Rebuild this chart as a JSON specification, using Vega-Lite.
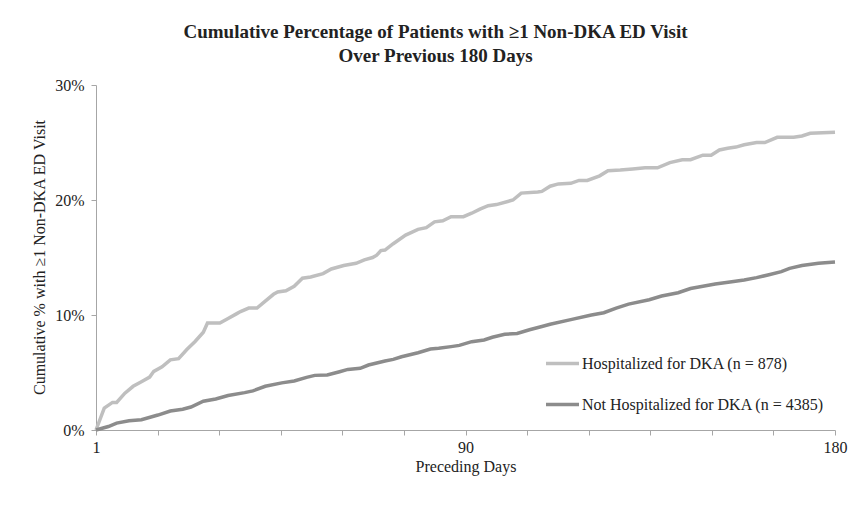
{
  "$schema": "https://vega.github.io/schema/vega-lite/v6.json",
  "width": 739,
  "height": 345,
  "autosize": {"type": "none"},
  "padding": {"left": 96, "top": 85, "right": 15, "bottom": 84},
  "background": "white",
  "title": {
    "text": ["Cumulative Percentage of Patients with ≥1 Non-DKA ED Visit", "Over Previous 180 Days"],
    "font": "Liberation Serif",
    "fontSize": 19,
    "fontWeight": "bold",
    "color": "#222222",
    "anchor": "middle",
    "dx": -30,
    "offset": 11,
    "lineHeight": 24
  },
  "config": {
    "view": {"stroke": null},
    "font": "Liberation Serif",
    "axis": {
      "labelFont": "Liberation Serif",
      "titleFont": "Liberation Serif",
      "labelFontSize": 16,
      "titleFontSize": 16,
      "titleFontWeight": "normal",
      "labelColor": "#222222",
      "titleColor": "#222222",
      "domainColor": "#a6a6a6",
      "tickColor": "#a6a6a6",
      "domainWidth": 1,
      "tickWidth": 1,
      "grid": false
    },
    "legend": {
      "labelFont": "Liberation Serif",
      "labelFontSize": 16,
      "labelColor": "#222222"
    }
  },
  "data": {
    "values": [
      {"group": "Hospitalized for DKA (n = 878)", "day": 1, "pct": 0},
      {"group": "Hospitalized for DKA (n = 878)", "day": 3, "pct": 1.9},
      {"group": "Hospitalized for DKA (n = 878)", "day": 5, "pct": 2.4},
      {"group": "Hospitalized for DKA (n = 878)", "day": 6, "pct": 2.4},
      {"group": "Hospitalized for DKA (n = 878)", "day": 8, "pct": 3.2},
      {"group": "Hospitalized for DKA (n = 878)", "day": 10, "pct": 3.8},
      {"group": "Hospitalized for DKA (n = 878)", "day": 12, "pct": 4.2},
      {"group": "Hospitalized for DKA (n = 878)", "day": 14, "pct": 4.6},
      {"group": "Hospitalized for DKA (n = 878)", "day": 15, "pct": 5.1},
      {"group": "Hospitalized for DKA (n = 878)", "day": 17, "pct": 5.5},
      {"group": "Hospitalized for DKA (n = 878)", "day": 19, "pct": 6.1},
      {"group": "Hospitalized for DKA (n = 878)", "day": 21, "pct": 6.2},
      {"group": "Hospitalized for DKA (n = 878)", "day": 23, "pct": 7.0},
      {"group": "Hospitalized for DKA (n = 878)", "day": 25, "pct": 7.7},
      {"group": "Hospitalized for DKA (n = 878)", "day": 27, "pct": 8.5},
      {"group": "Hospitalized for DKA (n = 878)", "day": 28, "pct": 9.3},
      {"group": "Hospitalized for DKA (n = 878)", "day": 31, "pct": 9.3},
      {"group": "Hospitalized for DKA (n = 878)", "day": 33, "pct": 9.7},
      {"group": "Hospitalized for DKA (n = 878)", "day": 35, "pct": 10.1},
      {"group": "Hospitalized for DKA (n = 878)", "day": 36, "pct": 10.3},
      {"group": "Hospitalized for DKA (n = 878)", "day": 38, "pct": 10.6},
      {"group": "Hospitalized for DKA (n = 878)", "day": 40, "pct": 10.6},
      {"group": "Hospitalized for DKA (n = 878)", "day": 42, "pct": 11.2},
      {"group": "Hospitalized for DKA (n = 878)", "day": 44, "pct": 11.8},
      {"group": "Hospitalized for DKA (n = 878)", "day": 45, "pct": 12.0},
      {"group": "Hospitalized for DKA (n = 878)", "day": 47, "pct": 12.1},
      {"group": "Hospitalized for DKA (n = 878)", "day": 49, "pct": 12.5},
      {"group": "Hospitalized for DKA (n = 878)", "day": 51, "pct": 13.2},
      {"group": "Hospitalized for DKA (n = 878)", "day": 53, "pct": 13.3},
      {"group": "Hospitalized for DKA (n = 878)", "day": 56, "pct": 13.6},
      {"group": "Hospitalized for DKA (n = 878)", "day": 58, "pct": 14.0},
      {"group": "Hospitalized for DKA (n = 878)", "day": 61, "pct": 14.3},
      {"group": "Hospitalized for DKA (n = 878)", "day": 64, "pct": 14.5},
      {"group": "Hospitalized for DKA (n = 878)", "day": 66, "pct": 14.8},
      {"group": "Hospitalized for DKA (n = 878)", "day": 68, "pct": 15.0},
      {"group": "Hospitalized for DKA (n = 878)", "day": 69, "pct": 15.2},
      {"group": "Hospitalized for DKA (n = 878)", "day": 70, "pct": 15.6},
      {"group": "Hospitalized for DKA (n = 878)", "day": 71, "pct": 15.65},
      {"group": "Hospitalized for DKA (n = 878)", "day": 73, "pct": 16.2},
      {"group": "Hospitalized for DKA (n = 878)", "day": 76, "pct": 16.95},
      {"group": "Hospitalized for DKA (n = 878)", "day": 79, "pct": 17.45},
      {"group": "Hospitalized for DKA (n = 878)", "day": 81, "pct": 17.6},
      {"group": "Hospitalized for DKA (n = 878)", "day": 83, "pct": 18.1},
      {"group": "Hospitalized for DKA (n = 878)", "day": 85, "pct": 18.2},
      {"group": "Hospitalized for DKA (n = 878)", "day": 87, "pct": 18.55},
      {"group": "Hospitalized for DKA (n = 878)", "day": 90, "pct": 18.55},
      {"group": "Hospitalized for DKA (n = 878)", "day": 92, "pct": 18.85},
      {"group": "Hospitalized for DKA (n = 878)", "day": 94, "pct": 19.2},
      {"group": "Hospitalized for DKA (n = 878)", "day": 96, "pct": 19.5},
      {"group": "Hospitalized for DKA (n = 878)", "day": 98, "pct": 19.6},
      {"group": "Hospitalized for DKA (n = 878)", "day": 102, "pct": 20.0},
      {"group": "Hospitalized for DKA (n = 878)", "day": 104, "pct": 20.6},
      {"group": "Hospitalized for DKA (n = 878)", "day": 108, "pct": 20.7},
      {"group": "Hospitalized for DKA (n = 878)", "day": 109, "pct": 20.75},
      {"group": "Hospitalized for DKA (n = 878)", "day": 111, "pct": 21.2},
      {"group": "Hospitalized for DKA (n = 878)", "day": 113, "pct": 21.4},
      {"group": "Hospitalized for DKA (n = 878)", "day": 116, "pct": 21.45},
      {"group": "Hospitalized for DKA (n = 878)", "day": 118, "pct": 21.7},
      {"group": "Hospitalized for DKA (n = 878)", "day": 120, "pct": 21.7},
      {"group": "Hospitalized for DKA (n = 878)", "day": 123, "pct": 22.1},
      {"group": "Hospitalized for DKA (n = 878)", "day": 125, "pct": 22.55},
      {"group": "Hospitalized for DKA (n = 878)", "day": 128, "pct": 22.6},
      {"group": "Hospitalized for DKA (n = 878)", "day": 131, "pct": 22.7},
      {"group": "Hospitalized for DKA (n = 878)", "day": 134, "pct": 22.8},
      {"group": "Hospitalized for DKA (n = 878)", "day": 137, "pct": 22.8},
      {"group": "Hospitalized for DKA (n = 878)", "day": 140, "pct": 23.25},
      {"group": "Hospitalized for DKA (n = 878)", "day": 143, "pct": 23.5},
      {"group": "Hospitalized for DKA (n = 878)", "day": 145, "pct": 23.5},
      {"group": "Hospitalized for DKA (n = 878)", "day": 148, "pct": 23.9},
      {"group": "Hospitalized for DKA (n = 878)", "day": 150, "pct": 23.9},
      {"group": "Hospitalized for DKA (n = 878)", "day": 152, "pct": 24.35},
      {"group": "Hospitalized for DKA (n = 878)", "day": 154, "pct": 24.5},
      {"group": "Hospitalized for DKA (n = 878)", "day": 156, "pct": 24.6},
      {"group": "Hospitalized for DKA (n = 878)", "day": 158, "pct": 24.8},
      {"group": "Hospitalized for DKA (n = 878)", "day": 161, "pct": 25.0},
      {"group": "Hospitalized for DKA (n = 878)", "day": 163, "pct": 25.0},
      {"group": "Hospitalized for DKA (n = 878)", "day": 166, "pct": 25.45},
      {"group": "Hospitalized for DKA (n = 878)", "day": 170, "pct": 25.45},
      {"group": "Hospitalized for DKA (n = 878)", "day": 172, "pct": 25.57},
      {"group": "Hospitalized for DKA (n = 878)", "day": 174, "pct": 25.8},
      {"group": "Hospitalized for DKA (n = 878)", "day": 177, "pct": 25.85},
      {"group": "Hospitalized for DKA (n = 878)", "day": 180, "pct": 25.9},
      {"group": "Not Hospitalized for DKA (n = 4385)", "day": 1, "pct": 0},
      {"group": "Not Hospitalized for DKA (n = 4385)", "day": 4, "pct": 0.3},
      {"group": "Not Hospitalized for DKA (n = 4385)", "day": 6, "pct": 0.6},
      {"group": "Not Hospitalized for DKA (n = 4385)", "day": 9, "pct": 0.8},
      {"group": "Not Hospitalized for DKA (n = 4385)", "day": 12, "pct": 0.9},
      {"group": "Not Hospitalized for DKA (n = 4385)", "day": 16, "pct": 1.3},
      {"group": "Not Hospitalized for DKA (n = 4385)", "day": 19, "pct": 1.65},
      {"group": "Not Hospitalized for DKA (n = 4385)", "day": 22, "pct": 1.8},
      {"group": "Not Hospitalized for DKA (n = 4385)", "day": 24, "pct": 2.0},
      {"group": "Not Hospitalized for DKA (n = 4385)", "day": 27, "pct": 2.5},
      {"group": "Not Hospitalized for DKA (n = 4385)", "day": 30, "pct": 2.7},
      {"group": "Not Hospitalized for DKA (n = 4385)", "day": 33, "pct": 3.0},
      {"group": "Not Hospitalized for DKA (n = 4385)", "day": 37, "pct": 3.25},
      {"group": "Not Hospitalized for DKA (n = 4385)", "day": 39, "pct": 3.4},
      {"group": "Not Hospitalized for DKA (n = 4385)", "day": 42, "pct": 3.8},
      {"group": "Not Hospitalized for DKA (n = 4385)", "day": 46, "pct": 4.1},
      {"group": "Not Hospitalized for DKA (n = 4385)", "day": 49, "pct": 4.26},
      {"group": "Not Hospitalized for DKA (n = 4385)", "day": 52, "pct": 4.58},
      {"group": "Not Hospitalized for DKA (n = 4385)", "day": 54, "pct": 4.75},
      {"group": "Not Hospitalized for DKA (n = 4385)", "day": 57, "pct": 4.78},
      {"group": "Not Hospitalized for DKA (n = 4385)", "day": 60, "pct": 5.07},
      {"group": "Not Hospitalized for DKA (n = 4385)", "day": 62, "pct": 5.27},
      {"group": "Not Hospitalized for DKA (n = 4385)", "day": 65, "pct": 5.36},
      {"group": "Not Hospitalized for DKA (n = 4385)", "day": 67, "pct": 5.65},
      {"group": "Not Hospitalized for DKA (n = 4385)", "day": 71, "pct": 6.0},
      {"group": "Not Hospitalized for DKA (n = 4385)", "day": 73, "pct": 6.14},
      {"group": "Not Hospitalized for DKA (n = 4385)", "day": 75, "pct": 6.37},
      {"group": "Not Hospitalized for DKA (n = 4385)", "day": 79, "pct": 6.72},
      {"group": "Not Hospitalized for DKA (n = 4385)", "day": 82, "pct": 7.04},
      {"group": "Not Hospitalized for DKA (n = 4385)", "day": 84, "pct": 7.1},
      {"group": "Not Hospitalized for DKA (n = 4385)", "day": 87, "pct": 7.25},
      {"group": "Not Hospitalized for DKA (n = 4385)", "day": 89, "pct": 7.36},
      {"group": "Not Hospitalized for DKA (n = 4385)", "day": 92, "pct": 7.68},
      {"group": "Not Hospitalized for DKA (n = 4385)", "day": 95, "pct": 7.83},
      {"group": "Not Hospitalized for DKA (n = 4385)", "day": 97, "pct": 8.06},
      {"group": "Not Hospitalized for DKA (n = 4385)", "day": 100, "pct": 8.32},
      {"group": "Not Hospitalized for DKA (n = 4385)", "day": 103, "pct": 8.4},
      {"group": "Not Hospitalized for DKA (n = 4385)", "day": 106, "pct": 8.72},
      {"group": "Not Hospitalized for DKA (n = 4385)", "day": 109, "pct": 9.0},
      {"group": "Not Hospitalized for DKA (n = 4385)", "day": 111, "pct": 9.2},
      {"group": "Not Hospitalized for DKA (n = 4385)", "day": 116, "pct": 9.6},
      {"group": "Not Hospitalized for DKA (n = 4385)", "day": 121, "pct": 10.0},
      {"group": "Not Hospitalized for DKA (n = 4385)", "day": 124, "pct": 10.2},
      {"group": "Not Hospitalized for DKA (n = 4385)", "day": 127, "pct": 10.6},
      {"group": "Not Hospitalized for DKA (n = 4385)", "day": 130, "pct": 10.95},
      {"group": "Not Hospitalized for DKA (n = 4385)", "day": 135, "pct": 11.33},
      {"group": "Not Hospitalized for DKA (n = 4385)", "day": 138, "pct": 11.65},
      {"group": "Not Hospitalized for DKA (n = 4385)", "day": 142, "pct": 11.94},
      {"group": "Not Hospitalized for DKA (n = 4385)", "day": 145, "pct": 12.3},
      {"group": "Not Hospitalized for DKA (n = 4385)", "day": 148, "pct": 12.5},
      {"group": "Not Hospitalized for DKA (n = 4385)", "day": 151, "pct": 12.7},
      {"group": "Not Hospitalized for DKA (n = 4385)", "day": 155, "pct": 12.9},
      {"group": "Not Hospitalized for DKA (n = 4385)", "day": 158, "pct": 13.04},
      {"group": "Not Hospitalized for DKA (n = 4385)", "day": 161, "pct": 13.25},
      {"group": "Not Hospitalized for DKA (n = 4385)", "day": 164, "pct": 13.5},
      {"group": "Not Hospitalized for DKA (n = 4385)", "day": 167, "pct": 13.77},
      {"group": "Not Hospitalized for DKA (n = 4385)", "day": 169, "pct": 14.06},
      {"group": "Not Hospitalized for DKA (n = 4385)", "day": 172, "pct": 14.3},
      {"group": "Not Hospitalized for DKA (n = 4385)", "day": 176, "pct": 14.5},
      {"group": "Not Hospitalized for DKA (n = 4385)", "day": 180, "pct": 14.6}
    ]
  },
  "mark": {"type": "line", "strokeWidth": 3.5, "interpolate": "linear"},
  "encoding": {
    "x": {
      "field": "day",
      "type": "quantitative",
      "scale": {"domain": [1, 180], "nice": false, "zero": false},
      "axis": {
        "title": "Preceding Days",
        "values": [1, 15.9167, 30.8333, 45.75, 60.6667, 75.5833, 90.5, 105.4167, 120.3333, 135.25, 150.1667, 165.0833, 180],
        "labelExpr": "datum.value == 1 ? '1' : datum.value == 90.5 ? '90' : datum.value == 180 ? '180' : ''",
        "tickSize": 5,
        "labelPadding": 4,
        "titlePadding": 3,
        "labelOverlap": false,
        "labelFlush": false
      }
    },
    "y": {
      "field": "pct",
      "type": "quantitative",
      "scale": {"domain": [0, 30], "nice": false},
      "axis": {
        "title": "Cumulative % with ≥1 Non-DKA ED Visit",
        "values": [0, 10, 20, 30],
        "labelExpr": "datum.value + '%'",
        "tickSize": 5,
        "labelPadding": 7,
        "titleX": -52,
        "titleY": 172,
        "titleAngle": -90,
        "titleBaseline": "alphabetic",
        "titleAlign": "center"
      }
    },
    "color": {
      "field": "group",
      "type": "nominal",
      "scale": {
        "domain": ["Hospitalized for DKA (n = 878)", "Not Hospitalized for DKA (n = 4385)"],
        "range": ["#bfbfbf", "#8c8c8c"]
      },
      "legend": {
        "title": null,
        "orient": "none",
        "legendX": 448,
        "legendY": 260,
        "symbolType": "stroke",
        "symbolStrokeWidth": 3.5,
        "symbolSize": 1089,
        "labelOffset": 1,
        "labelLimit": 0,
        "rowPadding": 14,
        "padding": 0
      }
    }
  }
}
